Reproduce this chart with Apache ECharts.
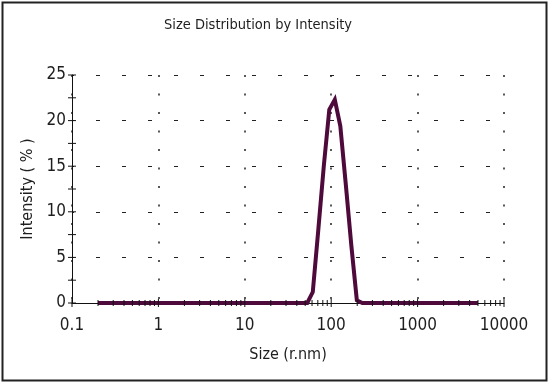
<!DOCTYPE html>
<html>
<head>
<meta charset="utf-8">
<script src="https://cdn.jsdelivr.net/npm/echarts@6/dist/echarts.min.js"></script>
<style>
html,body{margin:0;padding:0;background:#fff;}
#chart{width:550px;height:384px;}
</style>
</head>
<body>
<div id="chart"></div>
<script>
// ---- data ----
var sizes = [0.2, 0.2316, 0.2683, 0.3106, 0.3598, 0.4166, 0.4825, 0.5587, 0.647, 0.7493,
  0.8678, 1.005, 1.164, 1.348, 1.561, 1.808, 2.093, 2.424, 2.808, 3.251,
  3.765, 4.361, 5.05, 5.848, 6.772, 7.843, 9.083, 10.52, 12.18, 14.11,
  16.34, 18.92, 21.91, 25.38, 29.39, 34.03, 39.41, 45.64, 52.85, 61.2,
  70.88, 82.09, 95.06, 110.1, 127.5, 147.6, 171.0, 198.0, 229.3, 265.5,
  307.5, 356.1, 412.4, 477.6, 553.1, 640.5, 741.8, 859.0, 994.9, 1152,
  1334, 1545, 1789, 2072, 2399, 2778, 3217, 3726, 4315, 5000];
var intensity = [0,0,0,0,0,0,0,0,0,0,
  0,0,0,0,0,0,0,0,0,0,
  0,0,0,0,0,0,0,0,0,0,
  0,0,0,0,0,0,0,0,0,1.2,
  8.0,15.0,21.2,22.3,19.4,13.0,6.3,0.3,0,0,
  0,0,0,0,0,0,0,0,0,0,
  0,0,0,0,0,0,0,0,0,0];
var xMajorTicks = [0.1, 1, 10, 100, 1000, 10000];
var xMinorTicks = [0.2,0.3,0.4,0.5,0.6,0.7,0.8,0.9, 2,3,4,5,6,7,8,9, 20,30,40,50,60,70,80,90,
  200,300,400,500,600,700,800,900, 2000,3000,4000,5000,6000,7000,8000,9000];
var yTicks = [0, 2.5, 5, 7.5, 10, 12.5, 15, 17.5, 20, 22.5, 25];
var titleText = 'Size Distribution by Intensity';
var xName = 'Size (r.nm)';
var yName = 'Intensity ( % )';

var FONT = '"DejaVu Sans Condensed", "Liberation Sans Narrow", "Liberation Sans", Arial, sans-serif';
var TXT = '#1e1e1e';
var LINE = '#4e0a3b';

var chart = echarts.init(document.getElementById('chart'), null, {renderer: 'canvas'});

function tickSeries(vals, horiz, half) {
  return {
    type: 'custom',
    silent: true,
    clip: false,
    z: 5,
    data: vals.map(function (v) { return horiz ? [v, 0] : [0.1, v]; }),
    renderItem: function (params, api) {
      var p = api.coord([api.value(0), api.value(1)]);
      var shape = horiz
        ? {x1: p[0], y1: p[1] - half, x2: p[0], y2: p[1] + half}
        : {x1: p[0] - half, y1: p[1], x2: p[0] + half, y2: p[1]};
      return {type: 'line', shape: shape, style: {stroke: '#111', lineWidth: 1}};
    }
  };
}

var option = {
  animation: false,
  backgroundColor: '#fff',
  title: {
    text: titleText,
    left: 159,
    top: 13,
    textStyle: {fontFamily: FONT, fontSize: 14.5, fontWeight: 'normal', color: TXT}
  },
  grid: {left: 72, top: 75, right: 46, bottom: 81},
  xAxis: {
    type: 'log',
    logBase: 10,
    min: 0.1,
    max: 10000,
    name: xName,
    nameLocation: 'middle',
    nameGap: 44,
    nameTextStyle: {fontFamily: FONT, fontSize: 16, color: TXT},
    axisLine: {show: true, onZero: false, lineStyle: {color: '#111', width: 1}},
    axisTick: {show: false},
    axisLabel: {
      fontFamily: FONT, fontSize: 17, color: TXT, margin: 14,
      formatter: function (v) { return String(v); }
    },
    splitLine: {
      show: true,
      lineStyle: {color: '#222', width: 1.5, type: [2, 16.5]}
    }
  },
  yAxis: {
    type: 'value',
    min: 0,
    max: 25,
    interval: 5,
    name: yName,
    nameLocation: 'middle',
    nameGap: 36,
    nameTextStyle: {fontFamily: FONT, fontSize: 16, color: TXT},
    axisLine: {show: true, lineStyle: {color: '#111', width: 1}},
    axisTick: {show: false},
    axisLabel: {fontFamily: FONT, fontSize: 17, color: TXT, margin: 6},
    splitLine: {
      show: true,
      lineStyle: {color: '#222', width: 1.2, type: [4, 22], dashOffset: 2}
    }
  },
  series: [
    {
      type: 'line',
      data: sizes.map(function (s, i) { return [s, intensity[i]]; }),
      showSymbol: false,
      symbol: 'none',
      lineStyle: {color: LINE, width: 4, join: 'miter'},
      z: 4
    },
    tickSeries(xMajorTicks, true, 4),
    tickSeries(xMinorTicks, true, 3),
    tickSeries(yTicks, false, 4)
  ],
  graphic: [{
    type: 'rect',
    shape: {x: 2.5, y: 2.5, width: 544, height: 378},
    style: {fill: 'none', stroke: '#222', lineWidth: 2},
    silent: true
  }]
};
chart.setOption(option);
</script>
</body>
</html>
